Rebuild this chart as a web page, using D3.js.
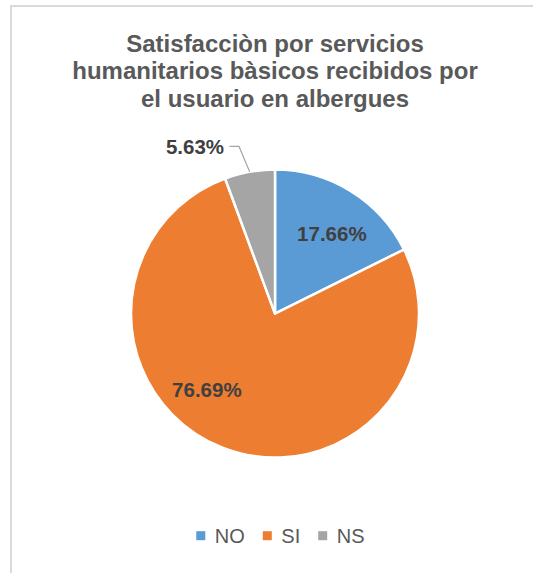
<!DOCTYPE html>
<html>
<head>
<meta charset="utf-8">
<script src="https://cdn.jsdelivr.net/npm/d3@7"></script>
<style>
  body { margin: 0; background: #fff; }
  text { font-family: "Liberation Sans", Arial, sans-serif; }
</style>
</head>
<body>
<svg id="chart" width="533" height="573"></svg>
<script>
var titleLines = ["Satisfacciòn por servicios", "humanitarios bàsicos recibidos por", "el usuario en albergues"];
var categories = ["NO", "SI", "NS"];
var values = [17.66, 76.69, 5.63];
var labels = ["17.66%", "76.69%", "5.63%"];
var colors = ["#5B9BD5", "#ED7D31", "#A5A5A5"];

var width = 533, height = 573;
var pie = {cx: 275, cy: 313.6, r: 144};

var svg = d3.select("#chart");

// chart frame (right / bottom edges fall outside the crop)
svg.append("rect")
   .attr("x", 11).attr("y", 6)
   .attr("width", 700).attr("height", 700)
   .attr("fill", "#fff")
   .attr("stroke", "#d9d9d9")
   .attr("stroke-width", 2);

svg.append("g")
   .selectAll("text")
   .data(titleLines)
   .join("text")
   .attr("x", 275)
   .attr("y", (d, i) => 51.5 + i * 27.5)
   .attr("text-anchor", "middle")
   .attr("font-size", 24)
   .attr("font-weight", "bold")
   .attr("fill", "#595959")
   .text(d => d);

var slices = d3.pie().sort(null).value(d => d)(values);
var arc = d3.arc().innerRadius(0).outerRadius(pie.r);

var g = svg.append("g")
           .attr("transform", `translate(${pie.cx},${pie.cy})`);

g.selectAll("path")
 .data(slices)
 .join("path")
 .attr("d", arc)
 .attr("fill", (d, i) => colors[i])
 .attr("stroke", "#fff")
 .attr("stroke-width", 2.5)
 .attr("stroke-linejoin", "round");

// label placement like excel's best fit: angle (deg) and distance as share of radius
var labelPlace = [{angle: 35.5, dist: 0.68}, {angle: 221.8, dist: 0.71}, null];

slices.forEach((d, i) => {
    var p = labelPlace[i];
    if (!p) return;
    var pt = d3.pointRadial(p.angle * Math.PI / 180, p.dist * pie.r);
    g.append("text")
     .attr("x", pt[0]).attr("y", pt[1])
     .attr("dy", "0.36em")
     .attr("text-anchor", "middle")
     .attr("font-size", 20.5)
     .attr("font-weight", "bold")
     .attr("fill", "#404040")
     .text(labels[i]);
});

// outside label with leader line for the small slice
var ns = slices[2];
var mid = (ns.startAngle + ns.endAngle) / 2;
var edge = d3.pointRadial(mid, pie.r);
var elbow = d3.pointRadial(mid - 0.035, pie.r + 27);
var tail = [elbow[0] - 9.5, elbow[1]];

g.append("path")
 .attr("d", d3.line()([edge, elbow, tail]))
 .attr("fill", "none")
 .attr("stroke", "#a6a6a6")
 .attr("stroke-width", 1.2);

g.append("text")
 .attr("x", tail[0] - 5.5).attr("y", tail[1])
 .attr("dy", "0.36em")
 .attr("text-anchor", "end")
 .attr("font-size", 20.5)
 .attr("font-weight", "bold")
 .attr("fill", "#404040")
 .text(labels[2]);

// legend
var legend = svg.append("g");
var x = 0;
categories.forEach((c, i) => {
    var item = legend.append("g").attr("transform", `translate(${x},0)`);
    item.append("rect")
        .attr("x", 0).attr("y", -4.5)
        .attr("width", 9).attr("height", 9)
        .attr("fill", colors[i]);
    var t = item.append("text")
        .attr("x", 18.5).attr("y", 7.3)
        .attr("font-size", 20)
        .attr("fill", "#595959")
        .text(c);
    x += 18.5 + t.node().getComputedTextLength() + 18;
});
var legendWidth = x - 18;
legend.attr("transform", `translate(${280.4 - legendWidth / 2},535.7)`);
</script>
</body>
</html>
